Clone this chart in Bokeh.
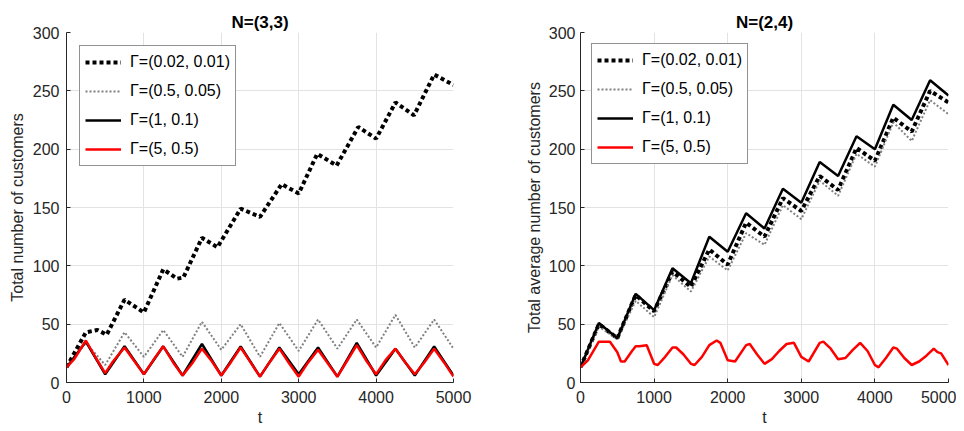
from bokeh.plotting import figure
from bokeh.models import Range1d, FixedTicker, Legend, LegendItem
from bokeh.layouts import row
from bokeh.embed import file_html
from bokeh.resources import INLINE

# ---------------- data ----------------
T = [0, 250, 500, 750, 1000, 1250, 1500, 1750, 2000, 2250, 2500,
     2750, 3000, 3250, 3500, 3750, 4000, 4250, 4500, 4750, 5000]

labels = ["Γ=(0.02, 0.01)", "Γ=(0.5, 0.05)", "Γ=(1, 0.1)", "Γ=(5, 0.5)"]
titles = ["N=(3,3)", "N=(2,4)"]

# Left panel N=(3,3)
left_a_t = [0, 250, 400, 520, 750, 1000, 1250, 1430, 1510, 1750, 1950, 2250, 2500,
            2780, 3000, 3240, 3490, 3770, 4000, 4250, 4490, 4750, 5000]
left_a = [13, 43, 45, 41, 71, 60, 97, 89, 90, 124, 116, 149, 142,
          170, 162, 196, 186, 219, 209, 240, 229, 264, 255]
left_b = [13, 34, 15, 43, 22, 45, 22, 52, 28, 50, 22, 51, 27, 54, 29, 54, 30, 58, 30, 54, 29]
left_c = [13, 35, 7, 31, 7, 31, 6, 33, 6, 31, 5, 30, 7, 30, 5, 34, 6, 29, 6, 31, 6]
left_d_t = [0, 100, 250, 380, 500, 600, 750, 880, 1000, 1120, 1250, 1380, 1500, 1620,
            1750, 1880, 2000, 2120, 2250, 2380, 2500, 2620, 2750, 2880, 3000, 3120,
            3250, 3380, 3500, 3620, 3750, 3880, 4000, 4120, 4250, 4380, 4500, 4620,
            4750, 4880, 5000]
left_d = [13, 20, 36, 21, 8, 18, 30, 18, 7, 19, 31, 17, 6, 16,
          29, 18, 6, 17, 30, 17, 5, 17, 29, 16, 5, 17,
          28, 16, 5, 18, 32, 18, 7, 19, 29, 17, 7, 17,
          29, 17, 5]

# Right panel N=(2,4)
right_a = [13, 50, 38, 75, 61, 95, 82, 114, 101, 137, 125, 158, 147, 177, 165, 201, 190, 227, 215, 250, 240]
right_b = [13, 48, 37, 70, 56, 92, 78, 108, 96, 128, 118, 152, 140, 173, 160, 196, 185, 223, 207, 242, 230]
right_c = [13, 51, 38, 76, 62, 98, 85, 125, 112, 145, 132, 166, 154, 189, 177, 211, 200, 238, 225, 259, 246]
right_d_t = [0, 100, 250, 300, 400, 500, 550, 600, 700, 750, 800, 900, 950, 1000, 1050,
             1150, 1250, 1300, 1400, 1500, 1550, 1650, 1750, 1850, 1900, 2000, 2100,
             2250, 2300, 2400, 2500, 2600, 2700, 2800, 2900, 3000, 3100, 3250, 3300,
             3400, 3500, 3600, 3700, 3800, 3900, 4000, 4050, 4150, 4250, 4300, 4400,
             4500, 4600, 4700, 4800, 4850, 4900, 5000]
right_d = [13, 19, 35, 35, 35, 26, 18, 18, 27, 31, 31, 32, 24, 16, 15,
           22, 30, 30, 24, 16, 15, 22, 32, 36, 34, 19, 18,
           32, 33, 24, 16, 20, 27, 33, 34, 22, 18, 34, 35,
           29, 20, 21, 28, 34, 27, 15, 13, 21, 30, 29, 21,
           15, 18, 23, 29, 26, 25, 15]

x_ticks = [0, 1000, 2000, 3000, 4000, 5000]
y_ticks = [0, 50, 100, 150, 200, 250, 300]

FONT = "Liberation Sans"
INK = "#262626"


def make_fig(title, ylabel, width, height, bl, br, bt, bb, ystand, ylabstand):
    p = figure(width=width, height=height, output_backend="svg", toolbar_location=None,
               x_range=Range1d(0, 5000), y_range=Range1d(0, 300),
               min_border_left=bl, min_border_right=br, min_border_top=bt,
               min_border_bottom=bb)
    p.title.text = title
    p.title.align = "center"
    p.title.text_font = FONT
    p.title.text_font_size = "17px"
    p.title.text_font_style = "bold"
    p.title.text_color = "#000000"
    p.title.standoff = 2
    p.outline_line_color = None
    p.background_fill_color = "white"
    p.border_fill_color = "white"
    for ax, ticks in ((p.xaxis[0], x_ticks), (p.yaxis[0], y_ticks)):
        ax.ticker = FixedTicker(ticks=ticks)
        ax.axis_line_color = INK
        ax.major_tick_line_color = INK
        ax.major_tick_in = 4
        ax.major_tick_out = 0
        ax.minor_tick_line_color = None
        ax.major_label_text_font = FONT
        ax.major_label_text_font_size = "16px"
        ax.major_label_text_color = INK
        ax.axis_label_text_font = FONT
        ax.axis_label_text_font_size = "16px"
        ax.axis_label_text_font_style = "normal"
        ax.axis_label_text_color = INK
    p.xaxis.axis_label = "t"
    p.xaxis.major_label_standoff = 8
    p.xaxis.axis_label_standoff = 3
    p.yaxis.axis_label = ylabel
    p.yaxis.major_label_standoff = ystand
    p.yaxis.axis_label_standoff = ylabstand
    p.xgrid.ticker = FixedTicker(ticks=x_ticks)
    p.ygrid.ticker = FixedTicker(ticks=y_ticks)
    p.grid.grid_line_color = "#e3e3e3"
    return p


def add_lines(p, ta, a, tb, b, tc, c, td, d, margin):
    r1 = p.line(ta, a, line_color="black", line_width=4, line_dash="4 3")
    r2 = p.line(tb, b, line_color="#808080", line_width=2, line_dash="2 2")
    r3 = p.line(tc, c, line_color="black", line_width=2.5)
    r4 = p.line(td, d, line_color="#ff0000", line_width=2.5)
    items = [LegendItem(label=l, renderers=[r]) for l, r in zip(labels, [r1, r2, r3, r4])]
    leg = Legend(items=items, location="top_left", margin=margin, padding=5,
                 spacing=7, glyph_width=36, glyph_height=22, label_height=22,
                 label_standoff=9, label_text_font=FONT, label_text_font_size="16px",
                 label_text_color="#000000", border_line_color=INK,
                 border_line_width=1, background_fill_color="white",
                 background_fill_alpha=1.0)
    p.add_layout(leg, "center")


p1 = make_fig(titles[0], "Total number of customers", 480, 431, 66, 27, 28, 49, 7, 4)
add_lines(p1, left_a_t, left_a, T, left_b, T, left_c, left_d_t, left_d, 13)

p2 = make_fig(titles[1], "Total average number of customers", 476, 431, 100, 8, 32, 46, 5, 3)
add_lines(p2, T, right_a, T, right_b, T, right_c, right_d_t, right_d, 11)

layout = row(p1, p2)
open("out.html", "w").write(file_html(layout, INLINE))
